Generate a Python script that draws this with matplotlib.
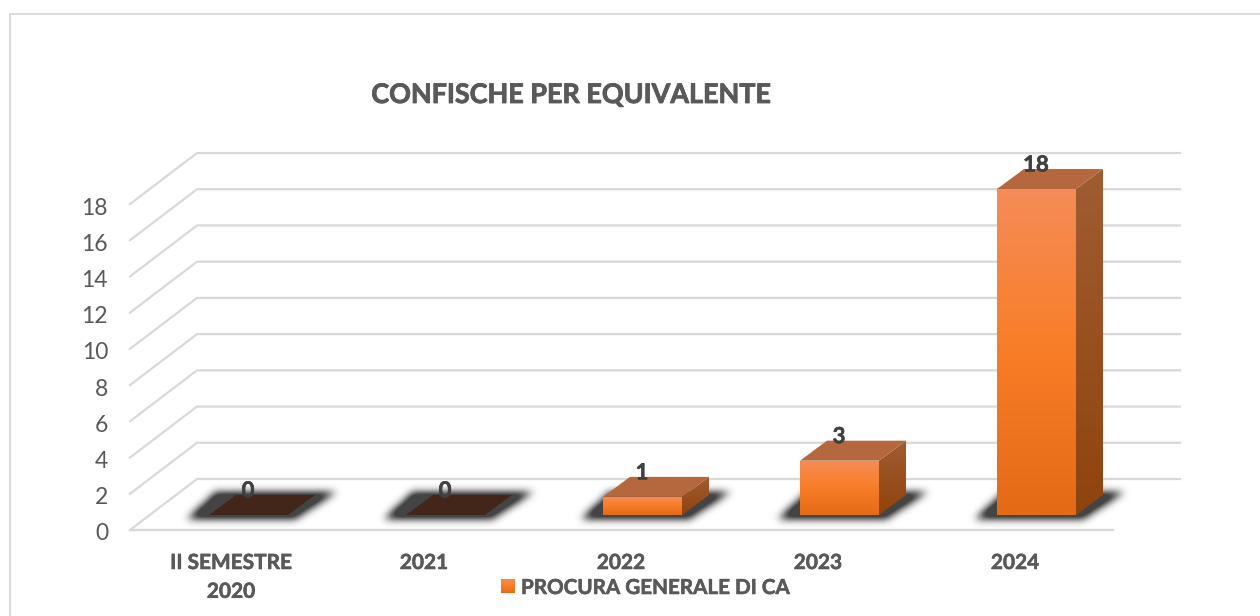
import numpy as np
import matplotlib
matplotlib.use("Agg")
import matplotlib.pyplot as plt
import matplotlib.patheffects as pe
from matplotlib.colors import LinearSegmentedColormap
from matplotlib.patches import Polygon, Rectangle

title = "CONFISCHE PER EQUIVALENTE"
categories = ["II SEMESTRE\n2020", "2021", "2022", "2023", "2024"]
values = [0, 0, 1, 3, 18]
series_name = "PROCURA GENERALE DI CA"
y_ticks = [0, 2, 4, 6, 8, 10, 12, 14, 16, 18]

W, H = 1260, 616
X0, XS = 248.5, 197.0   # pixel of the first category, pixels per category
Y0, YS = 515.0, 18.11   # pixel of value 0 on the bar plane, pixels per unit
plt.rcParams["font.family"] = ["Lato", "DejaVu Sans"]

fig = plt.figure(figsize=(W / 100, H / 100), dpi=100)
ax = fig.add_axes([0, 0, 1, 1])
ax.set_xlim(-X0 / XS, (W - X0) / XS)
ax.set_ylim((Y0 - H) / YS, Y0 / YS)
ax.axis("off")

def dx(p):
    return p / XS
def dy(p):
    return p / YS
def thick(c, w=0.4):
    return [pe.withStroke(linewidth=w, foreground=c)]

# chart border
border = "#d9d9d9"
bx, by = dx(9.5) - X0 / XS, (Y0 - 13.5) / YS
ax.plot([bx, bx], [(Y0 - H) / YS, by], color=border, lw=1.4, zorder=1)
ax.plot([bx, (W - X0) / XS], [by, by], color=border, lw=1.4, zorder=1)

# floor / wall gridlines
grid = "#d9d9d9"
front_left = dx(130) - X0 / XS
front_right = dx(1113) - X0 / XS
front_zero = dy(-15)
depth_x, depth_y = dx(67), dy(51)
for t in y_ticks:
    y = front_zero + t
    ax.plot([front_left, front_left + depth_x, front_right + depth_x],
            [y, y + depth_y, y + depth_y], color=grid, lw=1.6, zorder=1,
            solid_joinstyle="miter")
    ax.text(front_left - dx(22), y - dy(4), str(t), ha="right", va="center",
            fontsize=16.5, color="#595959", zorder=5)
ax.plot([front_left, front_right], [front_zero, front_zero], color=grid, lw=1.6, zorder=1)

half = dx(79) / 2
bar_dx, bar_dy = dx(27), dy(20)
front_cmap = LinearSegmentedColormap.from_list("f", ["#f58c57", "#f97d27", "#e36a16"])
side_cmap = LinearSegmentedColormap.from_list("s", ["#a05c33", "#99501f", "#8f440e"])
grad = np.linspace(0, 1, 128).reshape(-1, 1)

# blurred shadow stamp, in pixels relative to a bar's front-left corner
sw, sh = 220, 70
sx, sy = np.meshgrid(np.arange(sw) - 50.0, np.arange(sh) - 40.0)
t = (3.0 - sy) / 26.0                    # 0 at the shadow's front edge, 1 at its back edge
left = -22 + 28 * t
right = 86 + 40 * t
mask = ((t >= 0) & (t <= 1) & (sx >= left) & (sx <= right)).astype(float)
kx = np.arange(-12, 13)
kernel = np.exp(-kx ** 2 / (2 * 4.0 ** 2))
kernel /= kernel.sum()
blur = np.apply_along_axis(lambda m: np.convolve(m, kernel, mode="same"), 0, mask)
blur = np.apply_along_axis(lambda m: np.convolve(m, kernel, mode="same"), 1, blur)
rgba = np.zeros((sh, sw, 4))
rgba[..., :3] = 0.2
rgba[..., 3] = np.clip(blur * 1.25, 0, 0.92)

for i, v in enumerate(values):
    l, r = i - half, i + half
    ax.imshow(rgba, extent=(l - dx(50), l - dx(50) + dx(sw), dy(40) - dy(sh), dy(40)),
              aspect="auto", origin="upper", zorder=2, interpolation="bilinear")
    if v == 0:
        ax.add_patch(Polygon([[l, 0], [r, 0], [r + bar_dx, bar_dy], [l + bar_dx, bar_dy]],
                             closed=True, facecolor="#42261a", edgecolor="none", zorder=3))
    else:
        im = ax.imshow(grad, extent=(l, r, 0, v), cmap=front_cmap, aspect="auto",
                       origin="upper", zorder=3)
        im.set_clip_path(Rectangle((l, 0), r - l, v, transform=ax.transData))
        side = Polygon([[r, 0], [r + bar_dx, bar_dy], [r + bar_dx, v + bar_dy], [r, v]],
                       closed=True, transform=ax.transData)
        im2 = ax.imshow(grad, extent=(r, r + bar_dx, 0, v + bar_dy), cmap=side_cmap,
                        aspect="auto", origin="upper", zorder=3)
        im2.set_clip_path(side)
        ax.add_patch(Polygon([[l, v], [r, v], [r + bar_dx, v + bar_dy], [l + bar_dx, v + bar_dy]],
                             closed=True, facecolor="#b5683d", edgecolor="none", zorder=3))
    ax.text(i - dx(0.5), v + dy(24), str(v), ha="center", va="center", fontsize=16,
            fontweight="bold", color="#404040", zorder=6, path_effects=thick("#404040"))
    offset = 17.5 if "\n" in categories[i] else 21.5
    ax.text(i - dx(offset), -dy(38), categories[i], ha="center", va="top", fontsize=15,
            fontweight="bold", color="#595959", linespacing=1.55, zorder=5,
            path_effects=thick("#595959"))

ax.text(dx(570) - X0 / XS, (Y0 - 95) / YS, title, ha="center", va="center",
        fontsize=19.4, fontweight="bold", color="#595959", zorder=5,
        path_effects=thick("#595959", 0.6))

# legend
ax.imshow(grad, extent=(dx(501) - X0 / XS, dx(515) - X0 / XS, (Y0 - 593) / YS, (Y0 - 579) / YS),
          cmap=front_cmap, aspect="auto", origin="upper", zorder=5)
ax.set_xlim(-X0 / XS, (W - X0) / XS)
ax.set_ylim((Y0 - H) / YS, Y0 / YS)
ax.text(dx(521) - X0 / XS, (Y0 - 588) / YS, series_name, ha="left", va="center",
        fontsize=14.85, fontweight="bold", color="#595959", zorder=5,
        path_effects=thick("#595959"))

fig.savefig("out.png", dpi=100)
